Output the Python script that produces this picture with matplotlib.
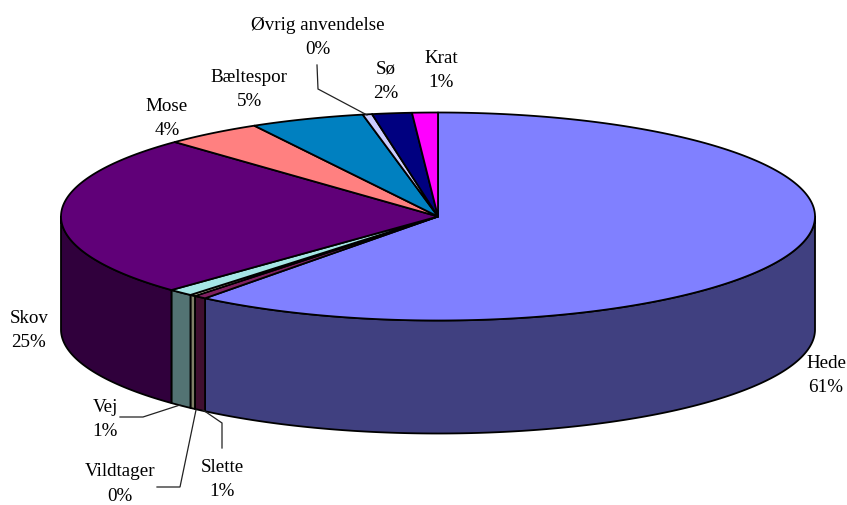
import numpy as np
import matplotlib
matplotlib.use("Agg")
import matplotlib.pyplot as plt
from matplotlib.patches import Polygon

plt.rcParams['font.family'] = ['Liberation Serif', 'DejaVu Serif']

categories = ['Hede', 'Slette', 'Vildtager', 'Vej', 'Skov', 'Mose', 'Bæltespor', 'Øvrig anvendelse', 'Sø', 'Krat']
values = [60.6, 0.55, 0.25, 1.1, 25.2, 4.2, 4.9, 0.4, 1.7, 1.1]
top_colors = ['#8080FF', '#802060', '#FFFFCC', '#A6E6E6', '#600078', '#FF8080', '#0080C0', '#CCCCFF', '#000080', '#FF00FF']
side_colors = ['#404080', '#401030', '#808066', '#537373', '#30003C', '#804040', '#004060', '#666680', '#000040', '#800080']
pct_labels = ['61%', '1%', '0%', '1%', '25%', '4%', '5%', '0%', '2%', '1%']
label_pos = [(826, 375.5), (222, 479.5), (120, 484), (105, 419.5), (29, 330.5), (167, 118.5), (249, 89.5), (318, 37.5), (386, 81.5), (441, 70.5)]

CX, CY, RX, RY, DEPTH = 438.0, 216.5, 377.0, 104.0, 113.0

fig = plt.figure(figsize=(8.47, 5.05), dpi=100)
ax = fig.add_axes([0, 0, 1, 1])
ax.set_xlim(0, 847)
ax.set_ylim(505, 0)
ax.axis('off')


def rim(t0, t1, dy=0.0):
    t = np.radians(np.linspace(t0, t1, max(3, int(abs(t1 - t0) * 4))))
    return np.column_stack([CX + RX * np.sin(t), CY - RY * np.cos(t) + dy])


total = float(sum(values))
angles = np.concatenate([[0.0], np.cumsum(values) / total * 360.0])

# outer wall, only on the front half of the disc
for i in range(len(values)):
    a0, a1 = max(angles[i], 90.0), min(angles[i + 1], 270.0)
    if a1 > a0:
        pts = np.vstack([rim(a0, a1), rim(a1, a0, DEPTH)])
        ax.add_patch(Polygon(pts, closed=True, fc=side_colors[i], ec='black', lw=1.3, joinstyle='round'))

# top face
for i in range(len(values)):
    pts = np.vstack([[[CX, CY]], rim(angles[i], angles[i + 1])])
    ax.add_patch(Polygon(pts, closed=True, fc=top_colors[i], ec='black', lw=1.3, joinstyle='round'))

# leader lines
leaders = [
    ([317, 318, 367], [65, 89, 115]),
    ([120, 143, 180], [417, 417, 405]),
    ([157, 180, 196], [487, 487, 410]),
    ([222, 222, 203], [448, 423, 410]),
]
for xs, ys in leaders:
    ax.plot(xs, ys, color='#222222', lw=0.9, solid_joinstyle='miter')

for name, pct, (x, y) in zip(categories, pct_labels, label_pos):
    ax.text(x, y, f"{name}\n{pct}", ha='center', va='center', fontsize=13.7,
            color='black', linespacing=1.6, clip_on=False)

fig.savefig('out.png', dpi=100)
